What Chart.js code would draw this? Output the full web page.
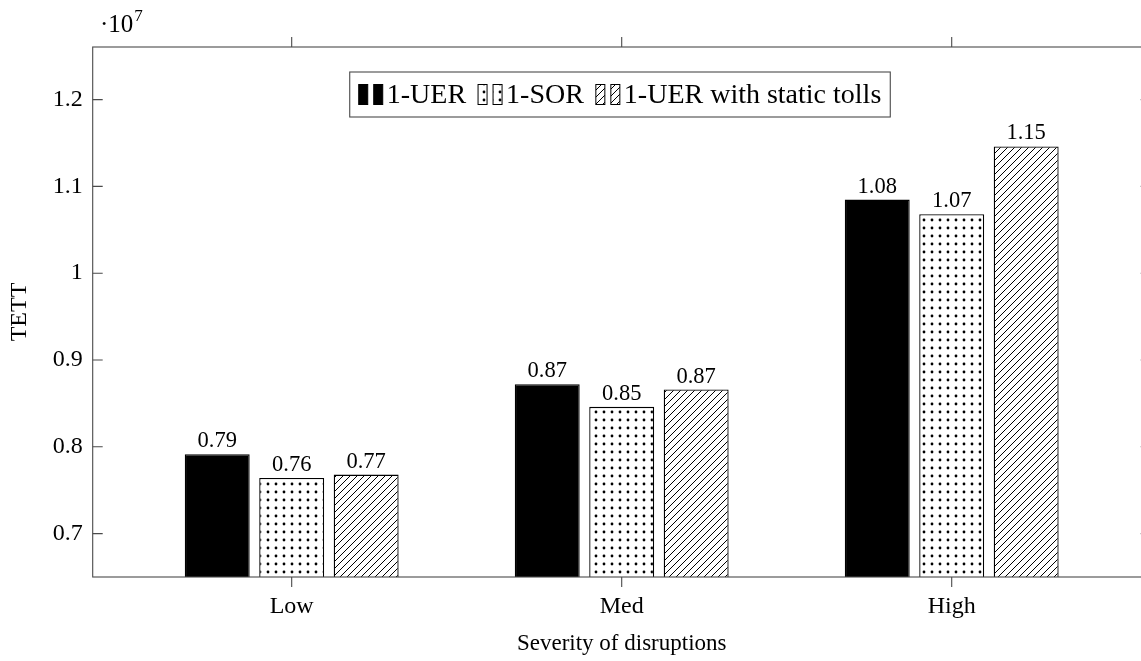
<!DOCTYPE html>
<html>
<head>
<meta charset="utf-8">
<script src="https://cdn.jsdelivr.net/npm/chart.js@4"></script>
<style>
  html, body { margin: 0; padding: 0; background: #fff; overflow: hidden; }
  #wrap { width: 1160px; height: 661px; }
</style>
</head>
<body>
<div id="wrap"><canvas id="c" width="1160" height="661"></canvas></div>
<script>
// Total travel time (TETT) per disruption severity
const categories = ['Low', 'Med', 'High'];
const seriesNames = ['1-UER', '1-SOR', '1-UER with static tolls'];
const uer = [7.914e6, 8.72e6, 1.0848e7];
const sor = [7.64e6, 8.46e6, 1.068e7];
const staticTolls = [7.68e6, 8.66e6, 1.146e7];
const yTicks = [7e6, 8e6, 9e6, 1e7, 1.1e7, 1.2e7];
const yScaleExp = 7;

const FONT = '"Liberation Serif", "DejaVu Serif", serif';
const AXIS = '#4a4a4a';

const canvas = document.getElementById('c');
const ctx0 = canvas.getContext('2d');

function dotPattern() {
  const c = document.createElement('canvas');
  c.width = c.height = 8;
  const g = c.getContext('2d');
  g.fillStyle = '#fff'; g.fillRect(0, 0, 8, 8);
  g.fillStyle = '#000';
  g.beginPath(); g.arc(4, 4, 1.4, 0, Math.PI * 2); g.fill();
  return ctx0.createPattern(c, 'repeat');
}
function hatchPattern() {
  const s = 7;
  const c = document.createElement('canvas');
  c.width = c.height = s;
  const g = c.getContext('2d');
  g.fillStyle = '#fff'; g.fillRect(0, 0, s, s);
  g.strokeStyle = '#000'; g.lineWidth = 1;
  g.beginPath();
  g.moveTo(0, s); g.lineTo(s, 0);
  g.moveTo(-1, 1); g.lineTo(1, -1);
  g.moveTo(s - 1, s + 1); g.lineTo(s + 1, s - 1);
  g.stroke();
  return ctx0.createPattern(c, 'repeat');
}

const fills = ['#000', dotPattern(), hatchPattern()];
const seriesValues = [uer, sor, staticTolls];

const datasets = seriesValues.map((vals, k) => ({
  label: seriesNames[k],
  data: vals.map((v, i) => ({ x: i, y: v })),
  backgroundColor: fills[k],
  borderColor: '#000',
  borderWidth: 1.3,
  borderSkipped: false,
  categoryPercentage: 0.677,
  barPercentage: 0.872
}));

const decorations = {
  id: 'decorations',
  afterDatasetsDraw(chart) {
    const { ctx, chartArea: a, scales: { x, y } } = chart;
    ctx.save();

    // frame
    ctx.strokeStyle = AXIS;
    ctx.lineWidth = 1.1;
    ctx.strokeRect(a.left, a.top, a.right - a.left, a.bottom - a.top);

    // ticks: y inward on both sides, x outward on top and bottom
    const tl = 10;
    ctx.beginPath();
    yTicks.forEach(v => {
      const py = y.getPixelForValue(v);
      ctx.moveTo(a.left, py); ctx.lineTo(a.left + tl, py);
      ctx.moveTo(a.right, py); ctx.lineTo(a.right - tl, py);
    });
    categories.forEach((_, i) => {
      const px = x.getPixelForValue(i);
      ctx.moveTo(px, a.bottom); ctx.lineTo(px, a.bottom + tl);
      ctx.moveTo(px, a.top); ctx.lineTo(px, a.top - tl);
    });
    ctx.stroke();

    // value labels above each bar
    ctx.fillStyle = '#000';
    ctx.font = '22.5px ' + FONT;
    ctx.textAlign = 'center';
    ctx.textBaseline = 'alphabetic';
    chart.data.datasets.forEach((ds, di) => {
      chart.getDatasetMeta(di).data.forEach((el, i) => {
        const v = ds.data[i].y / Math.pow(10, yScaleExp);
        ctx.fillText(v.toFixed(2), el.x, el.y - 7);
      });
    });

    // axis multiplier
    ctx.textAlign = 'left';
    ctx.font = '25px ' + FONT;
    ctx.fillText('·10', 100, 32);
    const w10 = ctx.measureText('·10').width;
    ctx.font = '17px ' + FONT;
    ctx.fillText(String(yScaleExp), 100 + w10 + 1, 21);

    // legend
    const lf = 28;
    ctx.font = lf + 'px ' + FONT;
    const padX = 9, iconW = 9, iconGap = 6, iconText = 4, entryGap = 12;
    const widths = chart.data.datasets.map(ds => ctx.measureText(ds.label).width);
    let total = padX * 2;
    widths.forEach((w, k) => {
      total += iconW * 2 + iconGap + iconText + w + (k < widths.length - 1 ? entryGap : 0);
    });
    const boxTop = 72, boxH = 45;
    const cx = 620;
    let bx = cx - total / 2;
    ctx.fillStyle = '#fff';
    ctx.fillRect(bx, boxTop, total, boxH);
    ctx.strokeStyle = AXIS;
    ctx.lineWidth = 1.1;
    ctx.strokeRect(bx, boxTop, total, boxH);
    const mid = boxTop + boxH / 2;
    const iconH = 20;
    let cur = bx + padX;
    chart.data.datasets.forEach((ds, k) => {
      for (let j = 0; j < 2; j++) {
        const ix = cur + j * (iconW + iconGap);
        ctx.fillStyle = ds.backgroundColor;
        ctx.fillRect(ix, mid - iconH / 2, iconW, iconH);
        ctx.strokeStyle = '#000';
        ctx.lineWidth = 1;
        ctx.strokeRect(ix, mid - iconH / 2, iconW, iconH);
      }
      cur += iconW * 2 + iconGap + iconText;
      ctx.fillStyle = '#000';
      ctx.textBaseline = 'middle';
      ctx.fillText(ds.label, cur, mid + 1);
      cur += widths[k] + entryGap;
    });

    ctx.restore();
  }
};

new Chart(canvas, {
  type: 'bar',
  data: { datasets },
  options: {
    responsive: false,
    animation: false,
    devicePixelRatio: 1,
    layout: { padding: { top: 47, right: 9.3, left: 0, bottom: 0 } },
    plugins: { legend: { display: false }, tooltip: { enabled: false } },
    scales: {
      x: {
        type: 'linear',
        offset: false,
        min: -0.603,
        max: 2.603,
        afterBuildTicks: s => { s.ticks = categories.map((_, i) => ({ value: i })); },
        afterFit: s => { s.height = 84; },
        grid: { display: false, drawTicks: false, offset: false },
        border: { display: false },
        ticks: {
          autoSkip: false,
          maxRotation: 0,
          padding: 15,
          color: '#000',
          font: { family: FONT, size: 24 },
          callback: v => categories[v]
        },
        title: {
          display: true,
          text: 'Severity of disruptions',
          color: '#000',
          font: { family: FONT, size: 23 },
          padding: { top: 0, bottom: 3 }
        }
      },
      y: {
        type: 'linear',
        min: 6.5e6,
        max: 1.2606e7,
        afterBuildTicks: s => { s.ticks = yTicks.map(v => ({ value: v })); },
        afterFit: s => { s.width = 92.7; },
        grid: { display: false, drawTicks: false },
        border: { display: false },
        ticks: {
          padding: 10,
          color: '#000',
          font: { family: FONT, size: 24 },
          callback: v => String(+(v / Math.pow(10, yScaleExp)).toFixed(1))
        },
        title: {
          display: true,
          text: 'TETT',
          color: '#000',
          font: { family: FONT, size: 24 },
          padding: { top: 5, bottom: 0 }
        }
      }
    }
  },
  plugins: [decorations]
});
</script>
</body>
</html>
